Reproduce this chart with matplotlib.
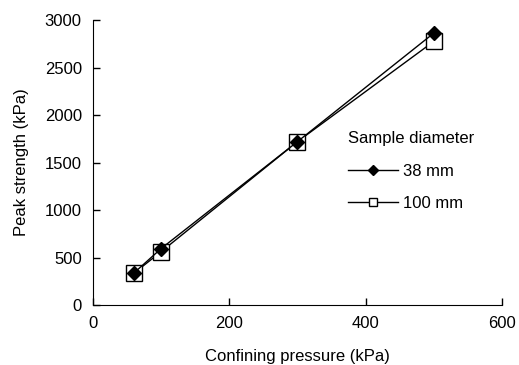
import matplotlib
matplotlib.use("Agg")
import matplotlib.pyplot as plt
from matplotlib.lines import Line2D

plt.rcParams['font.family'] = ['Liberation Sans', 'DejaVu Sans']

pressure = [60, 100, 300, 500]
s38 = [337, 595, 1720, 2862]
s100 = [335, 562, 1720, 2775]

fig = plt.figure(figsize=(5.19, 3.65), dpi=100)
ax = fig.add_axes([0.179, 0.164, 0.788, 0.781])

ax.plot(pressure, s100, color='black', lw=1.0, marker='s', ms=11, mfc='white', mec='black', mew=1.0, zorder=2)
ax.plot(pressure, s38, color='black', lw=1.0, marker='D', ms=7, mfc='black', mec='black', zorder=3)

ax.set_xlim(0, 600)
ax.set_ylim(0, 3000)
ax.set_xticks([0, 200, 400, 600])
ax.set_yticks(range(0, 3001, 500))
for s in ['top', 'right']:
    ax.spines[s].set_visible(False)
ax.tick_params(direction='in', length=5, labelsize=12, width=1, pad=8)
ax.set_xlabel('Confining pressure (kPa)', fontsize=12, labelpad=13)
ax.set_ylabel('Peak strength (kPa)', fontsize=12, labelpad=11)

h1 = Line2D([], [], color='black', lw=1.0, marker='D', ms=5, mfc='black')
h2 = Line2D([], [], color='black', lw=1.0, marker='s', ms=6, mfc='white', mec='black')
leg = ax.legend([h1, h2], ['38 mm', '100 mm'], title='Sample diameter', frameon=False,
                fontsize=12, title_fontsize=12, loc='upper left', bbox_to_anchor=(0.588, 0.665),
                handlelength=3.0, handletextpad=0.25, labelspacing=1.05)
leg._legend_box.align = 'left'
leg._legend_box.sep = 13

fig.savefig('out.png', dpi=100)
